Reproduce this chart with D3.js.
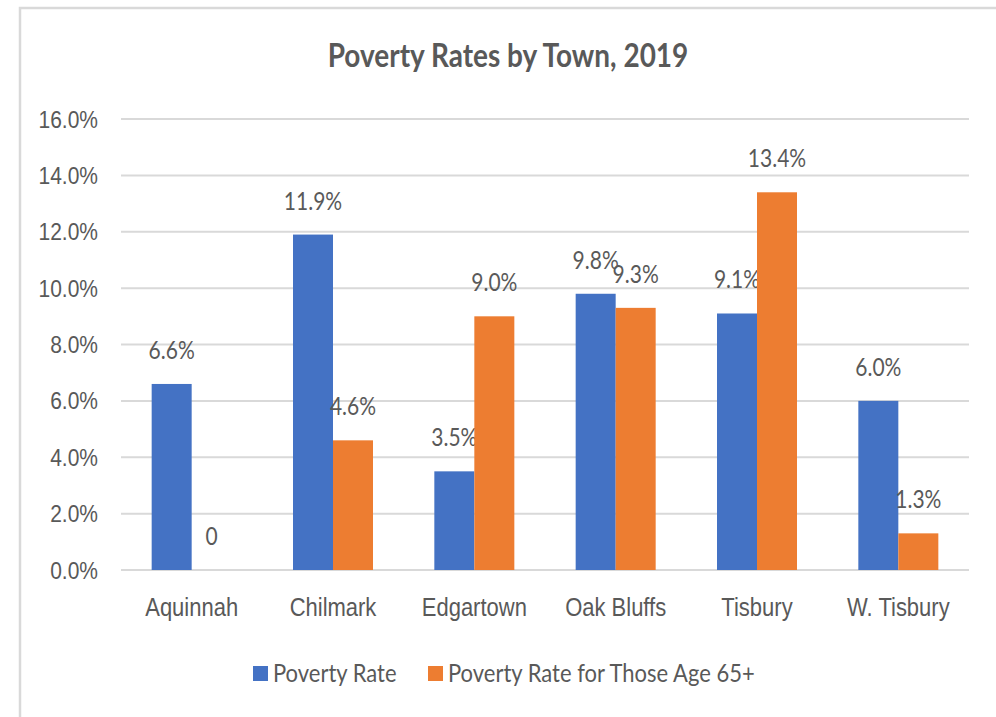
<!DOCTYPE html>
<html>
<head>
<meta charset="utf-8">
<script src="https://d3js.org/d3.v7.min.js"></script>
<style>
  body { margin: 0; background: #fff; }
  svg { display: block; font-family: Lato, "Noto Sans", sans-serif; }
</style>
</head>
<body>
<svg id="chart" width="996" height="717"></svg>
<script>
// chart data
var towns = ['Aquinnah', 'Chilmark', 'Edgartown', 'Oak Bluffs', 'Tisbury', 'W. Tisbury'];
var povertyRate = [6.6, 11.9, 3.5, 9.8, 9.1, 6.0];
var povertyRate65 = [0, 4.6, 9.0, 9.3, 13.4, 1.3];
var seriesNames = ['Poverty Rate', 'Poverty Rate for Those Age 65+'];
var yTicks = [0, 2, 4, 6, 8, 10, 12, 14, 16];

var colors = ['#4472C4', '#ED7D31'];
var textColor = '#595959';
// the source font is taller and narrower than Lato, stretch text a bit
var stretch = 1.15;

var svg = d3.select('#chart');

// places a text at (x, y) baseline, stretched vertically
function label(sel, x, y) {
  return sel.attr('transform', 'translate(' + x + ',' + y + ') scale(1,' + stretch + ')');
}

// outer frame (runs off the right and bottom edge like the source)
svg.append('rect')
  .attr('x', 20).attr('y', 8)
  .attr('width', 1000).attr('height', 800)
  .attr('fill', 'none')
  .attr('stroke', '#d9d9d9')
  .attr('stroke-width', 2.5);

var plot = { left: 121, right: 969, top: 119, bottom: 570 };

var x = d3.scaleBand()
  .domain(towns)
  .range([plot.left, plot.right]);

var y = d3.scaleLinear()
  .domain([0, 16])
  .range([plot.bottom, plot.top]);

var barW = 40;

// gridlines
svg.append('g')
  .selectAll('line')
  .data(yTicks)
  .join('line')
  .attr('x1', plot.left).attr('x2', plot.right)
  .attr('y1', function(d) { return y(d); })
  .attr('y2', function(d) { return y(d); })
  .attr('stroke', '#d9d9d9')
  .attr('stroke-width', 2);

// y axis labels
var yAxis = d3.axisLeft(y)
  .tickValues(yTicks)
  .tickSize(0)
  .tickPadding(0)
  .tickFormat(function(d) { return d.toFixed(1) + '%'; });

var yg = svg.append('g')
  .attr('transform', 'translate(98,0)')
  .call(yAxis);
yg.select('.domain').remove();
yg.selectAll('text')
  .attr('x', null).attr('dy', null)
  .attr('fill', textColor)
  .style('font-size', '21px')
  .attr('transform', 'translate(0,8) scale(1,' + stretch + ')');

// x axis labels
var xAxis = d3.axisBottom(x).tickSize(0).tickPadding(0);
var xg = svg.append('g')
  .attr('transform', 'translate(0,616)')
  .call(xAxis);
xg.select('.domain').remove();
xg.selectAll('text')
  .attr('y', null).attr('dy', null)
  .attr('fill', textColor)
  .style('font-size', '22px')
  .attr('transform', 'scale(1,' + stretch + ')');

// bars
var series = [povertyRate, povertyRate65];
series.forEach(function(values, s) {
  var data = towns.map(function(t, i) { return { town: t, v: values[i] }; });
  var off = s === 0 ? -barW : 0;

  svg.append('g')
    .selectAll('rect')
    .data(data)
    .join('rect')
    .attr('x', function(d) { return x(d.town) + x.bandwidth() / 2 + off; })
    .attr('y', function(d) { return y(d.v); })
    .attr('width', barW)
    .attr('height', function(d) { return y(0) - y(d.v); })
    .attr('fill', colors[s]);

  svg.append('g')
    .selectAll('text')
    .data(data)
    .join('text')
    .each(function(d) {
      label(d3.select(this), x(d.town) + x.bandwidth() / 2 + off + barW / 2, y(d.v) - 25);
    })
    .attr('text-anchor', 'middle')
    .attr('fill', textColor)
    .style('font-size', '21px')
    .text(function(d) { return d.v === 0 ? '0' : d.v.toFixed(1) + '%'; });
});

// title
label(svg.append('text'), 508, 67)
  .attr('text-anchor', 'middle')
  .attr('fill', textColor)
  .style('font-size', '28px')
  .style('font-weight', 'bold')
  .text('Poverty Rates by Town, 2019');

// legend
var legendX = [253, 428];
var legend = svg.append('g');
seriesNames.forEach(function(name, i) {
  legend.append('rect')
    .attr('x', legendX[i]).attr('y', 666)
    .attr('width', 15).attr('height', 15)
    .attr('fill', colors[i]);
  label(legend.append('text'), legendX[i] + 20, 682)
    .attr('fill', textColor)
    .style('font-size', '22px')
    .text(name);
});
</script>
</body>
</html>
